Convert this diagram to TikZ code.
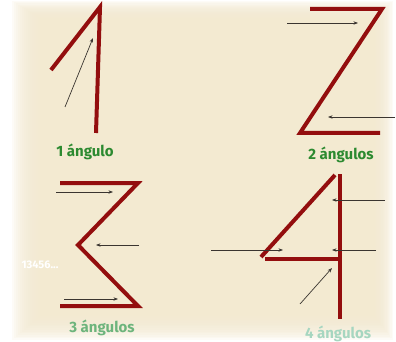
\documentclass[tikz,border=0pt]{standalone}
\usepackage{fontspec}
\setmainfont{Fira Sans}
\usepackage{xcolor}
\usetikzlibrary{arrows.meta}
\definecolor{creambg}{HTML}{F3EAD1}
\definecolor{redstroke}{HTML}{930E0E}
\definecolor{greendark}{HTML}{2C8A30}
\definecolor{greenmid}{HTML}{6DB47C}
\definecolor{greenpale}{HTML}{A6D6C0}
\definecolor{graypen}{HTML}{3A3530}
\tikzset{stroke/.style={line width=4pt,redstroke,line cap=butt,line join=miter},
ray/.style={-{Stealth[length=1.6mm,width=1.2mm]},line width=0.7pt,graypen},
tag/.style={font=\bfseries\fontsize{15}{17}\selectfont}}

\begin{document}
\begin{tikzpicture}[x=1pt,y=-1pt]
\useasboundingbox (0,0) rectangle (396,342);
\fill[white] (0,0) rectangle (396,342);
% soft cream sheet
\foreach \i in {0,...,15} {
 \fill[creambg,opacity=0.16] ({12+2*\i},{1+1.2*\i}) rectangle ({393-1.3*\i},{340-1.7*\i});
}
% 1
\draw[stroke] (51,70)--(100,7)--(96,133);
\draw[ray] (65,107)--(93,38);
\node[tag,greendark] (one) at (85,152) {1 ángulo};
% 2
\draw[stroke] (310,9)--(382,9)--(300,133)--(380,133);
\draw[ray] (287,23)--(358,23);
\draw[ray] (395,117)--(328,117);
\node[tag,greendark] (two) at (341,155) {2 ángulos};
% 3
\draw[stroke] (60,183)--(138,183)--(78,245)--(138,306)--(60,306);
\draw[ray] (56,192)--(113,192);
\draw[ray] (139,245)--(96,245);
\draw[ray] (64,299)--(118,299);
\node[tag,greenmid] (three) at (102,328) {3 ángulos};
\node[font=\bfseries\fontsize{11}{12}\selectfont,white] (seq) at (40,265) {13456...};
% 4
\draw[stroke] (261,257)--(335,175);
\draw[stroke] (340,174)--(340,319);
\draw[stroke] (265,259)--(342,259);
\draw[ray] (385,200)--(332,200);
\draw[ray] (211,250)--(283,250);
\draw[ray] (376,250)--(332,250);
\draw[ray] (300,304)--(332,268);
\node[tag,greenpale] (four) at (338,334) {4 ángulos};
\end{tikzpicture}
\end{document}
